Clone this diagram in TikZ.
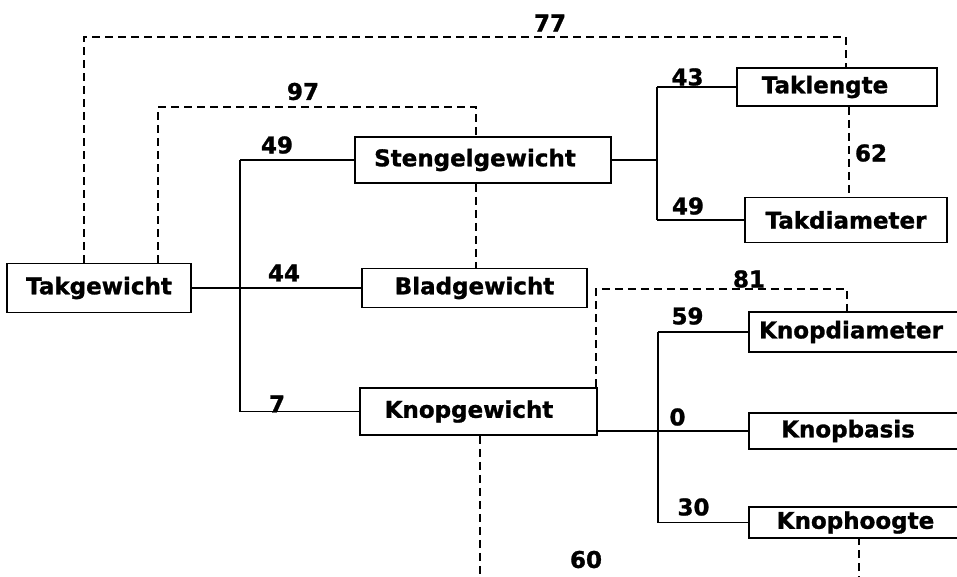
\documentclass[tikz,border=0pt]{standalone}
\usepackage{fontspec}
\setmainfont{DejaVu Sans}[BoldFeatures={FakeBold=1.2}]
\begin{document}
\begin{tikzpicture}[x=1pt,y=-1pt,
  box/.style={draw, line width=1.9pt, fill=white, inner sep=0pt, font=\bfseries\fontsize{23}{27}\selectfont},
  num/.style={inner sep=0pt, font=\bfseries\fontsize{23}{27}\selectfont},
  link/.style={line width=1.4pt},
  corr/.style={line width=1.7pt, dash pattern=on 8pt off 5pt}]
\useasboundingbox (0,0) rectangle (957,576);
\clip (0,0) rectangle (957,576);
% boxes
\node[box, minimum width=184pt, minimum height=49pt] (tak) at (99,288) {Takgewicht};
\node[box, minimum width=256pt, minimum height=46pt] (sten) at (483,160) {\hspace*{-16pt}Stengelgewicht};
\node[box, minimum width=225pt, minimum height=39pt] (blad) at (474.5,288) {Bladgewicht};
\node[box, minimum width=237pt, minimum height=47pt] (knopg) at (478.5,411.5) {\hspace*{-19pt}Knopgewicht};
\node[box, minimum width=200pt, minimum height=38pt] (takl) at (837,87) {\hspace*{-24pt}Taklengte};
\node[box, minimum width=202pt, minimum height=45pt] (takd) at (846,220) {Takdiameter};
\node[box, minimum width=213pt, minimum height=40pt] (knopd) at (855.5,332) {\hspace*{-9pt}Knopdiameter};
\node[box, minimum width=213pt, minimum height=36pt] (knopb) at (855.5,431) {\hspace*{-15pt}Knopbasis};
\node[box, minimum width=213pt, minimum height=31pt] (knoph) at (855.5,522.5) {Knophoogte};
% bus coordinates
\coordinate (busA) at (240,0);
\coordinate (busB) at (657,0);
\coordinate (busC) at (658,0);
% solid connectors
\draw[link] (tak.east) -- (blad.west);
\draw[link] (busA |- sten.west) -- (busA |- knopg.west);
\draw[link] (sten.west) -- (busA |- sten.west);
\draw[link] (knopg.west) -- (busA |- knopg.west);
\draw[link] (sten.east) -- (busB |- sten.east);
\draw[link] (busB |- takl.west) -- (busB |- takd.west);
\draw[link] (takl.west) -- (busB |- takl.west);
\draw[link] (takd.west) -- (busB |- takd.west);
\draw[link] (knopb.west) -- (knopb.west -| knopg.east);
\draw[link] (busC |- knopd.west) -- (busC |- knoph.west);
\draw[link] (knopd.west) -- (busC |- knopd.west);
\draw[link] (knoph.west) -- (busC |- knoph.west);
% dashed correlations
\coordinate (c77a) at (84,37);
\coordinate (c77b) at (846,37);
\draw[corr] (c77a |- tak.north) -- (c77a) -- (c77b) -- (c77b |- takl.north);
\coordinate (c97a) at (158,107);
\coordinate (c97b) at (476,107);
\draw[corr] (c97a |- tak.north) -- (c97a) -- (c97b) -- (c97b |- sten.north);
\draw[corr] (c97b |- sten.south) -- (c97b |- blad.north);
\coordinate (c62) at (849,0);
\draw[corr] (c62 |- takl.south) -- (c62 |- takd.north);
\coordinate (c81a) at (596,289);
\coordinate (c81b) at (847,289);
\draw[corr] (c81a |- knopg.north) -- (c81a) -- (c81b) -- (c81b |- knopd.north);
\coordinate (c60a) at (480,600);
\coordinate (c60b) at (859,600);
\draw[corr] (c60a |- knopg.south) -- (c60a) -- (c60b) -- (c60b |- knoph.south);
% labels
\node[num] (l77) at (550,23) {77};
\node[num] (l97) at (303,91.5) {97};
\node[num] (l49a) at (277,145) {49};
\node[num] (l44) at (284,273) {44};
\node[num] (l7) at (277,404) {7};
\node[num] (l43) at (687.5,77) {43};
\node[num] (l49b) at (688,206) {49};
\node[num] (l62) at (871,153) {62};
\node[num] (l81) at (749,279) {81};
\node[num] (l59) at (687.5,316) {59};
\node[num] (l0) at (677.5,417) {0};
\node[num] (l30) at (693.5,507) {30};
\node[num] (l60) at (586,559.5) {60};
\end{tikzpicture}
\end{document}
